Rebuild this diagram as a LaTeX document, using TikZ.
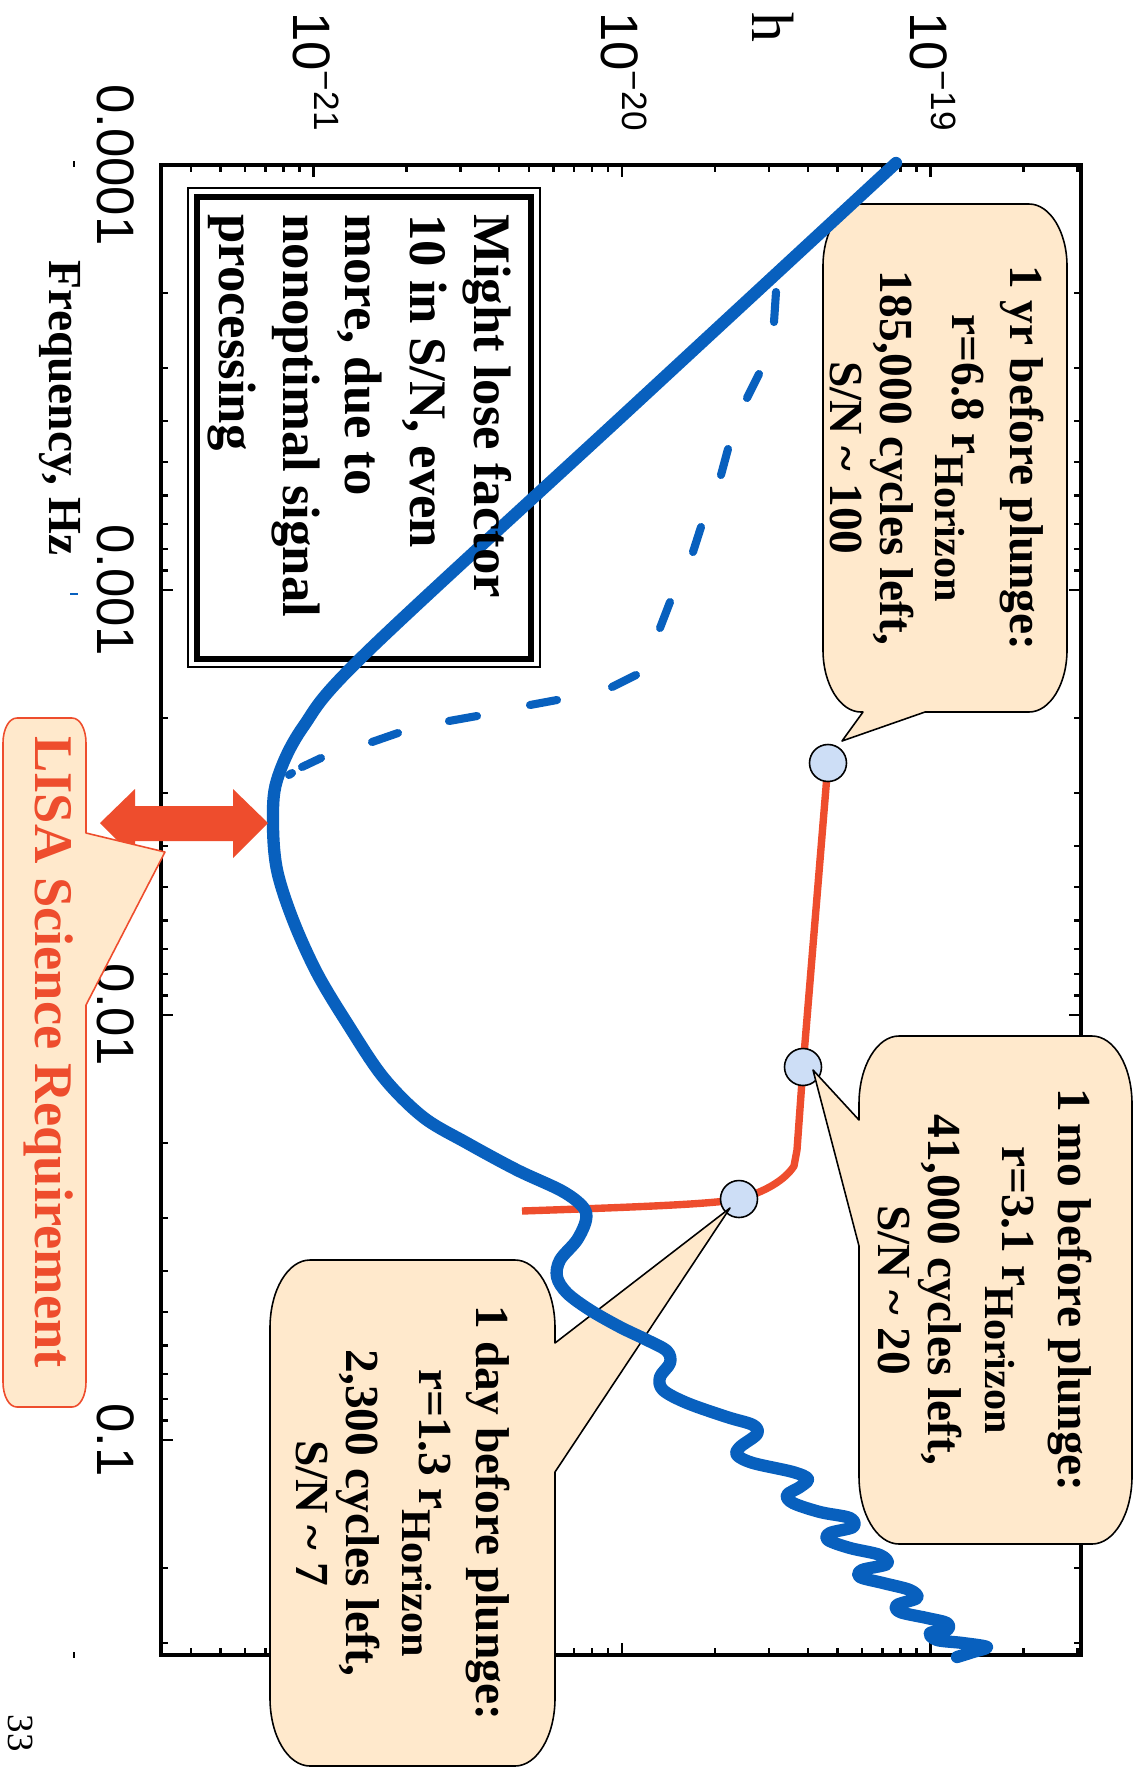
\documentclass[tikz,border=0pt]{standalone}
\usepackage{fontspec}
\setmainfont{Liberation Serif}
\setsansfont{Liberation Sans}
\definecolor{lblue}{RGB}{8,96,190}
\definecolor{lred}{RGB}{238,77,45}
\definecolor{peach}{RGB}{255,233,204}
\definecolor{dotfill}{RGB}{205,222,246}
\newcommand\horsub{\raisebox{-9.5pt}{\fontsize{24}{24}\selectfont Horizon}}
\begin{document}
\begin{tikzpicture}[x=0.02cm,y=-0.02cm,
  txt/.style={rotate=-90,inner sep=0pt},
  ticksty/.style={line width=1.4pt},
  bluecurve/.style={draw=lblue,line width=7pt,line cap=round,line join=round},
  bluedash/.style={draw=lblue,line width=4.6pt,line cap=round},
  redcurve/.style={draw=lred,line width=4.2pt,line join=round},
  dotsty/.style={circle,draw=black,line width=0.9pt,fill=dotfill,minimum size=0.74cm,inner sep=0pt},
  callbox/.style={fill=peach,draw=black,line width=0.9pt,line join=round},
  callt/.style={txt,anchor=base,font=\fontsize{27}{31}\selectfont\bfseries},
  mightt/.style={txt,anchor=base west,font=\fontsize{30}{36}\selectfont\bfseries},
  ticklab/.style={txt,font=\sffamily\fontsize{30}{30}\selectfont},
]
\useasboundingbox (0,0) rectangle (1139,1769);
\fill[white] (0,0) rectangle (1139,1769);

% frame
\draw[line width=1.8pt] (161,165) rectangle (1081,1655);
% h-axis ticks (top and bottom)
\foreach \dd in {-22,-21,-20,-19}{
  \foreach \k in {1,...,9}{
    \pgfmathsetmacro\xx{313.5+308.5*(\dd+21+log10(\k))}
    \pgfmathtruncatemacro\ok{(\xx>163)&&(\xx<1079)}
    \ifnum\ok=1
      \pgfmathsetmacro\len{\k==1 ? 12 : 7}
      \draw[ticksty] (\xx,165) -- ++(0,\len);
      \draw[ticksty] (\xx,1655) -- ++(0,-\len);
    \fi
  }
}
% frequency ticks (left and right)
\foreach \dd in {-4,-3,-2,-1}{
  \foreach \k in {1,...,9}{
    \pgfmathsetmacro\yy{165+425*(\dd+4+log10(\k))}
    \pgfmathtruncatemacro\ok{(\yy>167)&&(\yy<1653)}
    \ifnum\ok=1
      \pgfmathsetmacro\len{\k==1 ? 12 : 7}
      \draw[ticksty] (161,\yy) -- ++(\len,0);
      \draw[ticksty] (1081,\yy) -- ++(-\len,0);
    \fi
  }
}

% note box border
\draw[line width=0.75pt] (188,188) rectangle (540,667);
\draw[line width=2.9pt] (197,197) rectangle (531,659);

% red track
\coordinate (p1) at (828,763);
\coordinate (p2) at (803,1067);
\coordinate (p3) at (739,1199);
\coordinate (rend) at (522,1211);
\draw[redcurve] (p1) -- (p2) -- (797,1150) -- (794,1166)
  .. controls (785,1180) and (765,1192) .. (p3)
  .. controls (715,1204) and (640,1207) .. (rend);
\node[dotsty] (c1) at (p1) {};
\node[dotsty] (c2) at (p2) {};
\node[dotsty] (c3) at (p3) {};

% callouts
\draw[callbox] (861,204) -- (1029,204) .. controls (1050,204) and (1067,232) .. (1067,266)
  -- (1067,650) .. controls (1067,684) and (1050,712) .. (1029,712)
  -- (925,712) -- (842,741) -- (863,712) -- (861,712)
  .. controls (840,712) and (823,684) .. (823,650)
  -- (823,266) .. controls (823,232) and (840,204) .. (861,204) -- cycle;
\draw[callbox] (899,1036) -- (1092,1036) .. controls (1114,1036) and (1132,1066) .. (1132,1104)
  -- (1132,1476) .. controls (1132,1514) and (1114,1544) .. (1092,1544)
  -- (899,1544) .. controls (877,1544) and (859,1514) .. (859,1476)
  -- (859,1246) -- (813,1070) -- (859,1120)
  -- (859,1104) .. controls (859,1066) and (877,1036) .. (899,1036) -- cycle;
\draw[callbox] (310,1260) -- (515,1260) .. controls (537,1260) and (555,1290) .. (555,1328)
  -- (555,1343) -- (730,1208) -- (555,1472)
  -- (555,1698) .. controls (555,1736) and (537,1766) .. (515,1766)
  -- (310,1766) .. controls (288,1766) and (270,1736) .. (270,1698)
  -- (270,1328) .. controls (270,1290) and (288,1260) .. (310,1260) -- cycle;

% dashed blue curve
\draw[bluedash] (776,292)--(774,322) (759,374)--(747,398) (728,449)--(721,475)
  (701,527)--(693,552) (670,602)--(660,628) (636,675)--(612,687)
  (557,700)--(530,705) (477,716)--(449,721) (398,733)--(372,742)
  (321,758)--(302,767) (292,773)--(289,775);

% solid blue curve
\draw[bluecurve] plot[smooth,tension=0.55] coordinates {
 (896,163) (632,407) (366,653) (303,727) (277,780) (273,823) (277,870) (293,920)
 (317,973) (347,1023) (383,1077) (423,1117) (467,1143) (517,1170) (562,1191)
 (583,1207) (586,1220) (577,1240) (560,1260) (557,1277) (567,1293) (590,1310)
 (620,1327) (647,1340) (667,1351) (670,1363) (660,1377) (663,1390) (687,1403)
 (727,1417) (753,1425) (757,1434) (740,1447) (737,1455) (753,1463) (793,1472)
 (808,1479) (800,1487) (787,1495) (793,1503) (820,1512) (850,1518) (853,1527)
 (830,1533) (828,1540) (850,1548) (880,1555) (887,1564) (862,1570) (860,1577)
 (883,1583) (910,1590) (917,1598) (897,1605) (900,1612) (927,1618) (947,1623)
 (947,1630) (930,1633) (937,1640) (963,1643) (987,1647) (973,1652) (957,1657)};

% note text
\node[mightt] (m1) at (474,214) {Might lose factor};
\node[mightt] (m2) at (410,214) {10 in S/N, even};
\node[mightt] (m3) at (345,214) {more, due to};
\node[mightt] (m4) at (283,214) {nonoptimal signal};
\node[mightt] (m5) at (219,214) {processing};

% callout texts
\node[callt] (a1) at (1010,458) {1 yr before plunge:};
\node[callt] (a2) at (952,458) {r=6.8 r\horsub};
\node[callt] (a3) at (880,458) {185,000 cycles left,};
\node[callt] (a4) at (830,458) {S/N \textasciitilde{} 100};
\node[callt] (b1) at (1058,1290) {1 mo before plunge:};
\node[callt] (b2) at (1002,1290) {r=3.1 r\horsub};
\node[callt] (b3) at (928,1290) {41,000 cycles left,};
\node[callt] (b4) at (878,1290) {S/N \textasciitilde{} 20};
\node[callt] (d1) at (476,1513) {1 day before plunge:};
\node[callt] (d2) at (419,1513) {r=1.3 r\horsub};
\node[callt] (d3) at (346,1513) {2,300 cycles left,};
\node[callt] (d4) at (296,1513) {S/N \textasciitilde{} 7};

% axis labels
\node[ticklab,anchor=base west] (h21) at (293,12) {10\raisebox{12.5pt}{\fontsize{20}{20}\selectfont −21}};
\node[ticklab,anchor=base west] (h20) at (601,12) {10\raisebox{12.5pt}{\fontsize{20}{20}\selectfont −20}};
\node[ticklab,anchor=base west] (h19) at (910,12) {10\raisebox{12.5pt}{\fontsize{20}{20}\selectfont −19}};
\node[ticklab,anchor=base] (f4) at (97,165) {0.0001};
\node[ticklab,anchor=base] (f3) at (97,590) {0.001};
\node[ticklab,anchor=base] (f2) at (97,1015) {0.01};
\node[ticklab,anchor=base] (f1) at (97,1440) {0.1};
\node[txt,anchor=base,font=\fontsize{34}{34}\selectfont] (hlab) at (752,27) {h};
\node[txt,anchor=base,font=\fontsize{27}{27}\selectfont\bfseries] (flab) at (50,408) {Frequency, Hz};

% LISA requirement
\fill[lred] (100,823) -- (135,789) -- (135,806) -- (233,806) -- (233,789) -- (268,823)
  -- (233,858) -- (233,841) -- (135,841) -- (135,858) -- cycle;
\draw[fill=peach,draw=lred,line width=0.9pt,line join=round]
  (17,718) -- (72,718) .. controls (80,718) and (86,729) .. (86,743)
  -- (86,833) -- (165,852) -- (86,1005)
  -- (86,1382) .. controls (86,1396) and (80,1407) .. (72,1407)
  -- (17,1407) .. controls (9,1407) and (3,1396) .. (3,1382)
  -- (3,743) .. controls (3,729) and (9,718) .. (17,718) -- cycle;
\node[txt,anchor=base,text=lred,font=\fontsize{31}{31}\selectfont\bfseries] (lisa) at (35,1052) {LISA Science Requirement};

% small marks and page number
\fill (73,161) rectangle (75,167);
\fill (73,1652) rectangle (75,1658);
\draw[lblue,line width=1.3pt] (70,594) -- (78,594);
\node[txt,anchor=base,font=\fontsize{21}{21}\selectfont] (pg) at (9,1733) {33};
\end{tikzpicture}
\end{document}
